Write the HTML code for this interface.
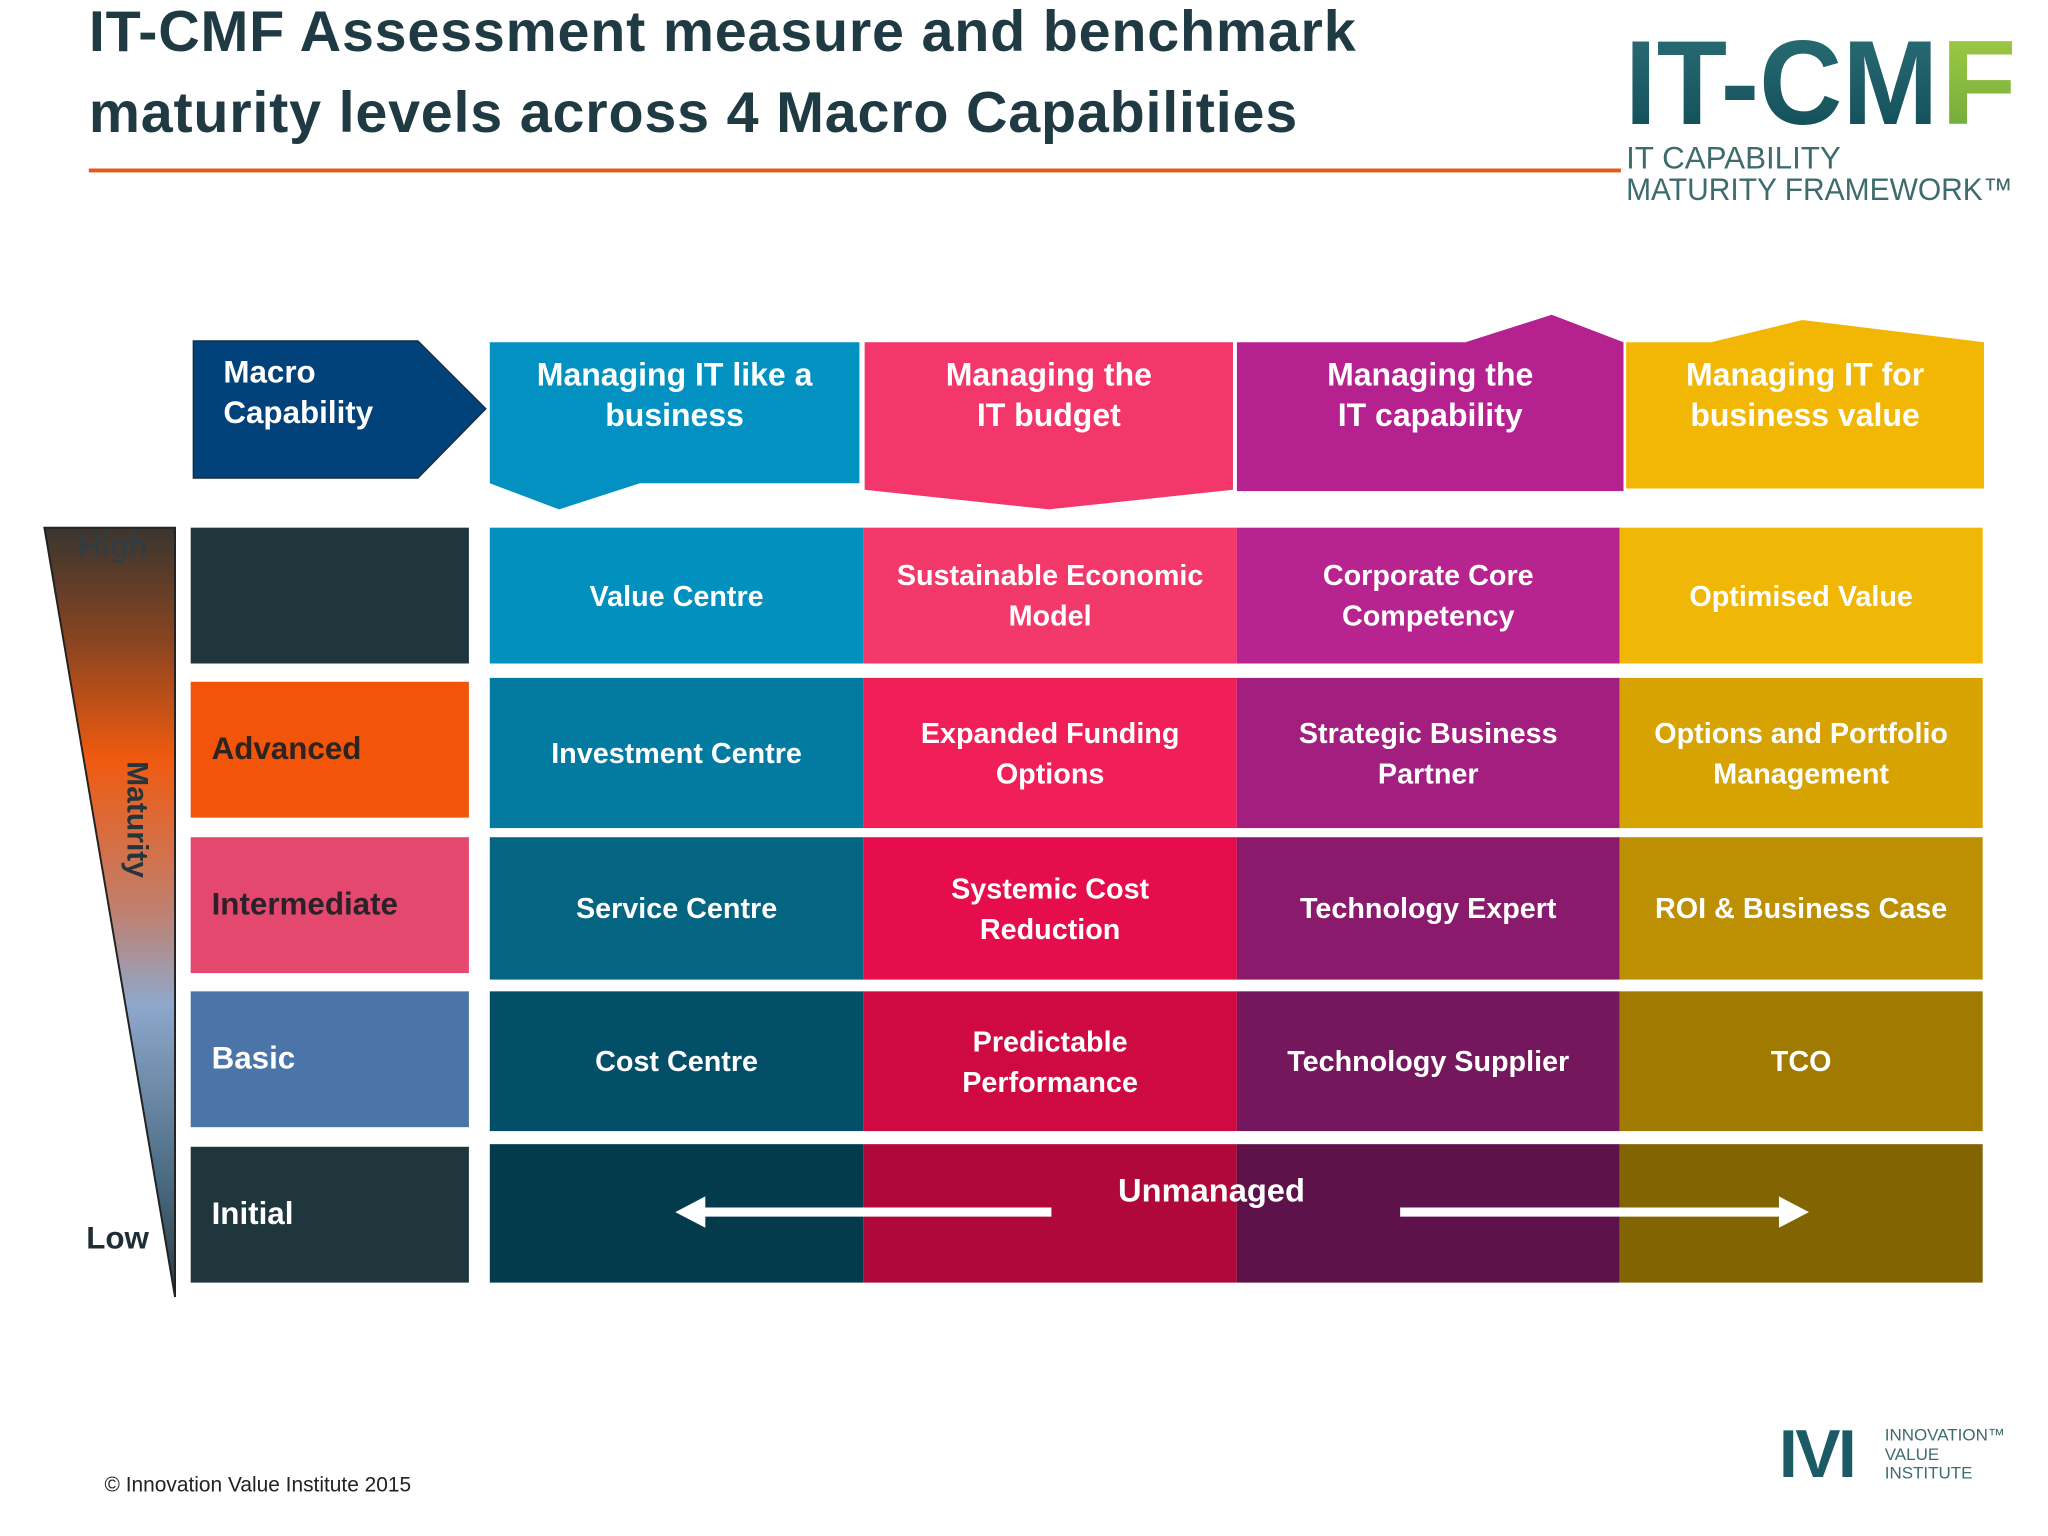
<!DOCTYPE html>
<html><head><meta charset="utf-8"><style>
html,body{margin:0;padding:0;background:#fff;width:2048px;height:1536px;overflow:hidden}
#w{position:absolute;left:0;top:0;width:1568px;height:1176px;transform:scale(1.30612);transform-origin:0 0;font-family:"Liberation Sans",sans-serif}
.a{position:absolute}
.t{position:absolute;color:#fff;font-weight:bold;font-size:22px;line-height:31px;text-align:center;display:flex;align-items:center;justify-content:center}
.h{font-size:24.5px;line-height:31px;align-items:flex-start;padding-top:10px;box-sizing:border-box}
.lbl{position:absolute;left:146px;width:213px;font-weight:bold;font-size:24px;display:flex;align-items:center;padding-left:16px;box-sizing:border-box}
</style></head><body>
<div id="w">
<div class="a" style="left:68px;top:-6px;font-weight:bold;font-size:44px;letter-spacing:0.6px;line-height:62px;color:#1f3a42">IT-CMF Assessment measure and benchmark<br>maturity levels across 4 Macro Capabilities</div>
<div class="a" style="left:68px;top:129px;width:1173px;height:3px;background:#e8581c"></div>
<svg class="a" style="left:1240px;top:5px" width="328" height="160">
<defs><linearGradient id="lg" x1="0" y1="0" x2="0" y2="1"><stop offset="0" stop-color="#2c7078"/><stop offset="1" stop-color="#0f4a55"/></linearGradient>
<linearGradient id="lg2" x1="0" y1="0" x2="0" y2="1"><stop offset="0" stop-color="#a6cf45"/><stop offset="1" stop-color="#6aa63a"/></linearGradient></defs>
<text x="4" y="90" font-family="Liberation Sans" font-weight="bold" font-size="92" fill="url(#lg)" textLength="240" lengthAdjust="spacingAndGlyphs">IT-CM</text>
<text x="246" y="90" font-family="Liberation Sans" font-weight="bold" font-size="92" fill="url(#lg2)" textLength="58" lengthAdjust="spacingAndGlyphs">F</text>
<text x="5" y="124" font-family="Liberation Sans" font-size="24" fill="#3e6b6e">IT CAPABILITY</text>
<text x="5" y="148" font-family="Liberation Sans" font-size="24" fill="#3e6b6e" textLength="296" lengthAdjust="spacingAndGlyphs">MATURITY FRAMEWORK™</text>
</svg>

<svg class="a" style="left:0;top:0" width="1568" height="1176">
<defs><linearGradient id="mg" x1="0" y1="0" x2="0" y2="1">
<stop offset="0" stop-color="#3a3530"/><stop offset="0.15" stop-color="#8a4520"/><stop offset="0.3" stop-color="#f05a10"/><stop offset="0.5" stop-color="#c08070"/><stop offset="0.62" stop-color="#8ea8cc"/><stop offset="0.85" stop-color="#4a6a80"/><stop offset="1" stop-color="#2a3a44"/></linearGradient></defs>
<polygon points="148,261 320,261 372,313 320,366 148,366" fill="#02427a" stroke="#1a2a3a" stroke-width="1"/>
<polygon points="375,262 658,262 658,370 490,370 428,390 375,370" fill="#0291c0"/>
<polygon points="662,262 944,262 944,375 803,390 662,375" fill="#f3376a"/>
<polygon points="947,262 1122,262 1188,241 1243,262 1243,376 947,376" fill="#b5218f"/>
<polygon points="1245,262 1310,262 1380,245 1519,262 1519,374 1245,374" fill="#f2b705"/>
<polygon points="34,404 134,404 134,993" fill="url(#mg)" stroke="#222" stroke-width="1.5"/>
</svg>
<div class="a" style="left:171px;top:270px;color:#fff;font-weight:bold;font-size:24px;line-height:31px">Macro<br>Capability</div>
<div class="t h" style="left:375px;top:262px;width:283px">Managing IT like a<br>business</div>
<div class="t h" style="left:662px;top:262px;width:282px">Managing the<br>IT budget</div>
<div class="t h" style="left:947px;top:262px;width:296px">Managing the<br>IT capability</div>
<div class="t h" style="left:1245px;top:262px;width:274px">Managing IT for<br>business value</div>

<div class="a" style="left:60px;top:405px;font-weight:bold;font-size:24px;color:#2a3f48;opacity:.7">High</div>
<div class="a" style="left:66px;top:935px;font-weight:bold;font-size:24px;color:#1e2e34">Low</div>
<div class="a" style="left:50px;top:614px;width:110px;text-align:center;transform:rotate(90deg);font-weight:bold;font-size:23px;color:#26353c">Maturity</div>

<div class="lbl" style="top:404px;height:104px;background:#1e363c"></div>
<div class="lbl" style="top:522px;height:104px;background:#f2540a;color:#2b2420">Advanced</div>
<div class="lbl" style="top:641px;height:104px;background:#e5486e;color:#2a2228">Intermediate</div>
<div class="lbl" style="top:759px;height:104px;background:#4b74a8;color:#fff">Basic</div>
<div class="lbl" style="top:878px;height:104px;background:#1e363c;color:#fff">Initial</div>

<div id="grid"></div>

<div class="a" style="left:856px;top:898px;font-weight:bold;font-size:25px;color:#fff">Unmanaged</div>
<svg class="a" style="left:0;top:0" width="1568" height="1176">
<line x1="805" y1="928" x2="535" y2="928" stroke="#fff" stroke-width="7"/>
<polygon points="517,928 540,916 540,940" fill="#fff"/>
<line x1="1072" y1="928" x2="1365" y2="928" stroke="#fff" stroke-width="7"/>
<polygon points="1385,928 1362,916 1362,940" fill="#fff"/>
</svg>

<div class="a" style="left:80px;top:1129px;font-size:16px;color:#222">© Innovation Value Institute 2015</div>
<div class="a" style="left:1362px;top:1086px;font-weight:bold;font-size:52px;color:#1c5a66;letter-spacing:-2px;line-height:56px">IVI</div>
<div class="a" style="left:1443px;top:1092px;font-size:13px;line-height:14.5px;color:#3e6b6e">INNOVATION™<br>VALUE<br>INSTITUTE</div>
</div>
<script>
const columns=[[375,661],[661,947],[947,1240],[1240,1518]];
const rows=[[404,508],[519,634],[641,750],[759,866],[876,982]];
const colors=[
["#0290bf","#037aa0","#046583","#044f68","#033b4c"],
["#f3386a","#f01f58","#e50d4b","#cf0a42","#b00838"],
["#b7248f","#a21f80","#8a1b6c","#74175c","#5d124a"],
["#f1b706","#d7a303","#bd8f02","#a17a02","#836402"]];
const labels=[
["Value Centre","Investment Centre","Service Centre","Cost Centre",""],
["Sustainable Economic<br>Model","Expanded Funding<br>Options","Systemic Cost<br>Reduction","Predictable<br>Performance",""],
["Corporate Core<br>Competency","Strategic Business<br>Partner","Technology Expert","Technology Supplier",""],
["Optimised Value","Options and Portfolio<br>Management","ROI &amp; Business Case","TCO",""]];
const g=document.getElementById('grid');
columns.forEach((c,i)=>rows.forEach((r,j)=>{
 const d=document.createElement('div');
 d.className='t';
 d.style.cssText=`left:${c[0]}px;top:${r[0]}px;width:${c[1]-c[0]}px;height:${r[1]-r[0]}px;background:${colors[i][j]}`;
 d.innerHTML=labels[i][j];
 
 
 g.appendChild(d);
}));
</script>
</body></html>
